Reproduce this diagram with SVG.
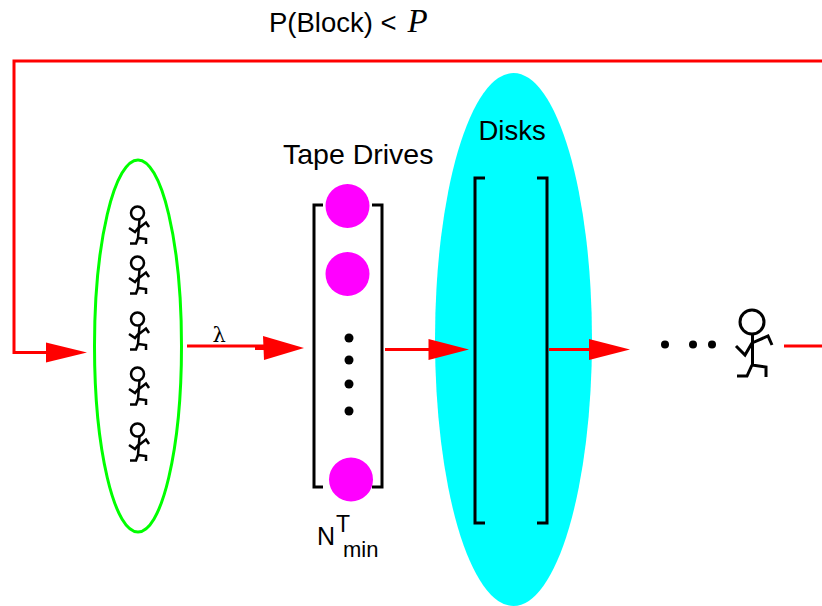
<svg xmlns="http://www.w3.org/2000/svg" width="822" height="606" viewBox="0 0 822 606">
<defs>
<style>
text{font-family:"Liberation Sans",Arial,sans-serif;font-size:24px;fill:#000}
.red{fill:none;stroke:#f00;stroke-width:3}
.head{fill:#f00;stroke:none}
.blk{fill:none;stroke:#000;stroke-width:3}
.dot{fill:#000}
.mag{fill:#f0f}
.fig{fill:none;stroke:#000;stroke-width:3}
.sm{fill:none;stroke:#000;stroke-width:2.500}
</style>
<g id="runner">
<circle cx="137.500" cy="213" r="6.500"/>
<path d="M139.500 219.500L138 238M139 228L146 222.500L149 227M139 227L135 232L129 228M138 238L146 239V244M138 238L136 243.500H130"/>
</g>
</defs>
<rect width="822" height="606" fill="#fff"/>
<g id="population">
<ellipse cx="138" cy="346" rx="43.500" ry="186" fill="none" stroke="#0f0" stroke-width="3"/>
<use href="#runner" class="sm"/>
<use href="#runner" class="sm" y="50"/>
<use href="#runner" class="sm" y="106"/>
<use href="#runner" class="sm" y="161"/>
<use href="#runner" class="sm" y="217"/>
</g>
<g id="tape-drives">
<path class="blk" d="M323 205H314V487H323M372 205H382V487H372"/>
<circle class="mag" cx="347.500" cy="206" r="22"/>
<circle class="mag" cx="347.500" cy="274" r="22"/>
<circle class="mag" cx="351" cy="479.500" r="22"/>
<circle class="dot" cx="349" cy="338" r="4.500"/>
<circle class="dot" cx="349" cy="360" r="4.500"/>
<circle class="dot" cx="349" cy="384" r="4.500"/>
<circle class="dot" cx="349" cy="411" r="4.500"/>
<text x="283" y="164" style="font-size:28.500px">Tape Drives</text>
<text x="317" y="545" style="font-size:25px">N</text>
<text x="336" y="532" style="font-size:23px">T</text>
<text x="343" y="557" style="font-size:22px">min</text>
</g>
<g id="disks">
<ellipse cx="513.500" cy="339.500" rx="78.500" ry="266.500" fill="#0ff"/>
<path class="blk" d="M485 178H475V523H485M537 178H547V523H537"/>
<text x="478.500" y="139.500" style="font-size:27.500px">Disks</text>
</g>
<g id="departing">
<circle class="dot" cx="665" cy="344.500" r="4"/>
<circle class="dot" cx="693" cy="344.500" r="4"/>
<circle class="dot" cx="712" cy="344.500" r="4"/>
<circle class="fig" cx="752" cy="322" r="12"/>
<path class="fig" d="M752.500 334V365M752 343L768 336L772 345M752 343L745 355L736 346M752 365L766 367V377M752 365L747 376H737"/>
</g>
<g id="connectors">
<path class="red" d="M822 61H14V352.500H50"/>
<polygon class="head" points="46,342.500 87,352.500 46,362.500"/>
<path class="red" d="M187 346H268M255 348.500H268"/>
<polygon class="head" points="263,336 304,348 264,360"/>
<path class="red" d="M385 349.500H432"/>
<polygon class="head" points="428.500,339 469,349.500 428.500,360"/>
<path class="red" d="M549 349.500H594"/>
<polygon class="head" points="589,339 630,349.500 589,360"/>
<path class="red" d="M784 346H822"/>
</g>
<g id="labels">
<text x="269" y="32" style="font-size:27.500px">P(Block) &lt;</text>
<text x="407.500" y="32" style="font-family:'Liberation Serif',serif;font-style:italic;font-size:33px">P</text>
<text x="212.500" y="342" style="font-family:'DejaVu Serif','Liberation Serif',serif;font-size:21px">λ</text>
</g>
</svg>
